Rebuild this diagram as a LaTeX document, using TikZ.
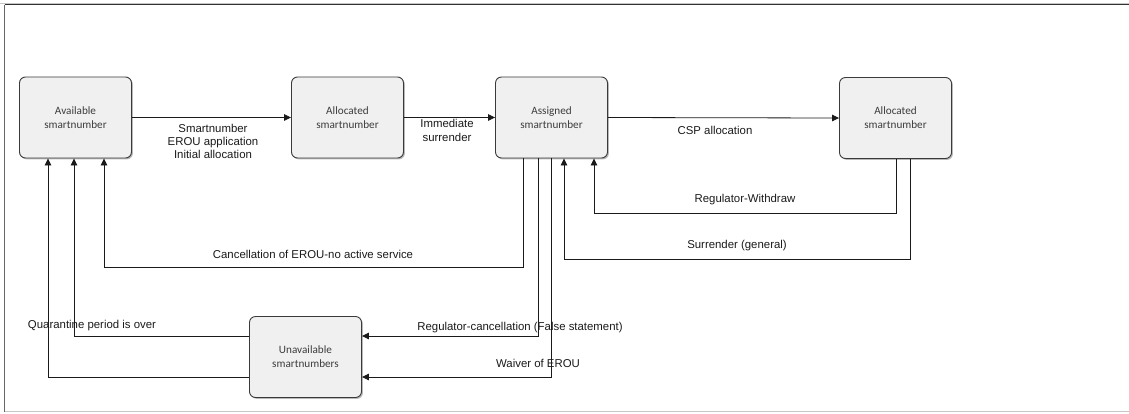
\documentclass[tikz,border=0pt]{standalone}
\usepackage{fontspec}
\setmainfont{Liberation Sans}
\newfontfamily\boxfont{Carlito}
\usetikzlibrary{arrows.meta,shadows}
\definecolor{boxfill}{HTML}{F0F0F0}
\definecolor{boxline}{HTML}{3A3A3A}
\definecolor{ink}{HTML}{1A1A1A}
\begin{document}
\begin{tikzpicture}[x=1pt,y=-1pt,
  state/.style={draw=boxline, fill=boxfill, line width=0.9pt, rounded corners=6pt,
    minimum width=112pt, minimum height=81pt, inner sep=0pt, align=center,
    text=ink!85, font=\boxfont\fontsize{11.2}{13.8}\selectfont,
    drop shadow={shadow xshift=1.4pt, shadow yshift=-1.4pt, fill=black!50, opacity=0.55}},
  flow/.style={draw=ink, line width=0.8pt, -{Triangle[length=7pt,width=6.5pt]}},
  lbl/.style={font=\fontsize{11.4}{13}\selectfont, text=ink, inner sep=1pt, align=center},
]
\useasboundingbox (0,0) rectangle (1129,413);

% page frame
\draw[gray!45, line width=0.6pt] (0,3.2) -- (1129,3.2);
\draw[black!80, line width=0.9pt] (4.8,4.6) -- (1129,4.6);
\draw[black!60, line width=0.8pt] (4.8,4.6) -- (4.8,411.5);
\draw[gray!45, line width=1pt] (4.8,411.7) -- (1129,411.7);

% states
\node[state] (A) at (75.5,117.5) {Available\\smartnumber};
\node[state] (B) at (347.5,117.5) {Allocated\\smartnumber};
\node[state] (C) at (551.5,117.5) {Assigned\\smartnumber};
\node[state] (D) at (895.5,118) {Allocated\\smartnumber};
\node[state] (E) at (305.5,357) {Unavailable\\smartnumbers};

% turning points of the routed connectors
\coordinate (cA) at (523,267);  \coordinate (cB) at (104,267);
\coordinate (qA) at (74,336);
\coordinate (lA) at (48,377);
\coordinate (rA) at (538,336);
\coordinate (vA) at (551,377);
\coordinate (wA) at (896,213);  \coordinate (wB) at (594,213);
\coordinate (sA) at (910,259);  \coordinate (sB) at (564,259);

% straight transitions along the top row
\draw[flow] (A.east) -- (B.west);
\draw[flow] (B.east) -- (C.west);
\draw[flow] (C.east) -- (D.west);

% routed transitions
\draw[flow] (C.south -| cA) -- (cA) -- (cB) -- (A.south -| cB);
\draw[flow] (E.west |- qA) -- (qA) -- (A.south -| qA);
\draw[flow] (E.west |- lA) -- (lA) -- (A.south -| lA);
\draw[flow] (C.south -| rA) -- (rA) -- (E.east |- rA);
\draw[flow] (C.south -| vA) -- (vA) -- (E.east |- vA);
\draw[flow] (D.south -| wA) -- (wA) -- (wB) -- (C.south -| wB);
\draw[flow] (D.south -| sA) -- (sA) -- (sB) -- (C.south -| sB);

% transition labels
\node[lbl] (tAB) at (213,141) {Smartnumber\\EROU application\\Initial allocation};
\node[lbl, fill=white, inner sep=1.5pt, font=\fontsize{11.4}{14}\selectfont] (tBC) at (447,130.5) {Immediate\\surrender};
\node[lbl] (tCD) at (715,130) {CSP allocation};
\node[lbl] (tW) at (745,200) {Regulator-Withdraw};
\node[lbl] (tS) at (737,246) {Surrender (general)};
\node[lbl] (tC) at (313,254) {Cancellation of EROU-no active service};
\node[lbl] (tQ) at (92,326) {Quarantine period is over};
\node[lbl] (tR) at (520,328) {Regulator-cancellation (False statement)};
\node[lbl] (tV) at (538,363) {Waiver of EROU};
\end{tikzpicture}
\end{document}
